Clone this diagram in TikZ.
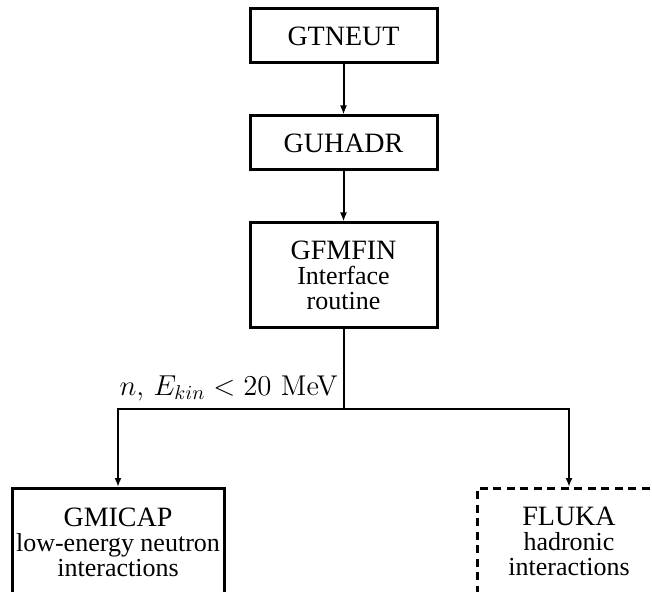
\documentclass[tikz,border=0pt]{standalone}
\usepackage[no-math]{fontspec}
\newfontfamily\timesfont{Liberation Serif}
\usetikzlibrary{arrows.meta}
\newcommand\subtxt{\fontsize{13}{12.5}\selectfont}

\begin{document}
\begin{tikzpicture}[x=0.5pt,y=-0.5pt,
    box/.style={draw,line width=1.5pt,align=center,inner sep=0pt,minimum width=93.5pt,minimum height=27pt,
      font=\timesfont\fontsize{14}{12.5}\selectfont},
    lowbox/.style={box,anchor=north,inner ysep=9.5pt,text depth=45pt},
    conn/.style={line width=1pt},
    arr/.style={conn,-{Latex[length=4.5pt,width=3.5pt]}}]
  \useasboundingbox (0,0) rectangle (652,592);
  \node[box] (gtneut) at (343.5,36) {GTNEUT};
  \node[box] (guhadr) at (343.5,143) {GUHADR};
  \node[box,minimum height=52.5pt] (gfmfin) at (343.5,275.5) {GFMFIN\\{\subtxt Interface}\\{\subtxt routine}};
  \coordinate (split) at (343.5,409);
  \node[lowbox,minimum width=106pt] (gmicap) at (118,487) {GMICAP\\{\subtxt low-energy neutron}\\{\subtxt interactions}};
  \node[lowbox,minimum width=92pt,dash pattern=on 4pt off 2.75pt] (fluka) at (569,487) {FLUKA\\{\subtxt hadronic}\\{\subtxt interactions}};
  \node[anchor=base east,inner sep=0pt,font=\fontsize{14.3}{16}\selectfont] (cut) at ([xshift=-2.75pt,yshift=7pt]split) {$n$, $E_{kin} < 20$ MeV};
  \draw[arr] (gtneut) -- (guhadr);
  \draw[arr] (guhadr) -- (gfmfin);
  \draw[conn] (gfmfin) -- (split);
  \draw[arr] (split) -| (gmicap.north);
  \draw[arr] (split) -| (fluka.north);
\end{tikzpicture}
\end{document}
